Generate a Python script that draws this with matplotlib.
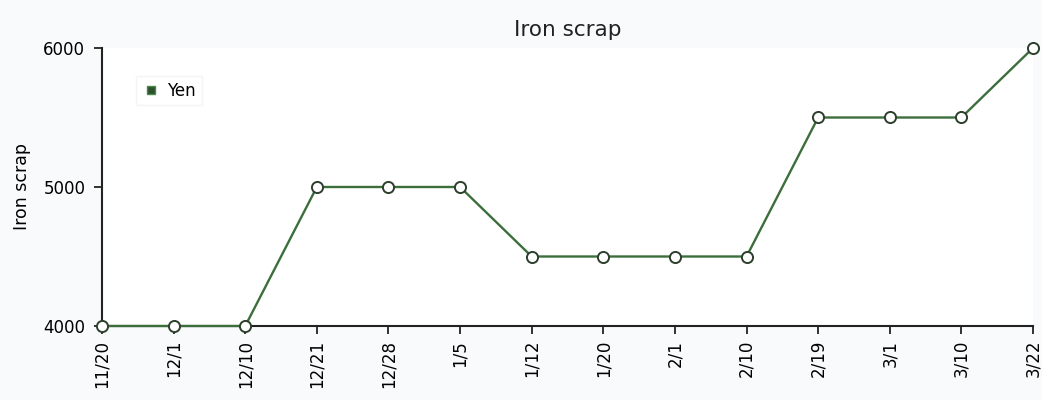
import matplotlib
matplotlib.use("Agg")
import matplotlib.pyplot as plt
from matplotlib.lines import Line2D

dates = ["11/20", "12/1", "12/10", "12/21", "12/28", "1/5", "1/12", "1/20",
         "2/1", "2/10", "2/19", "3/1", "3/10", "3/22"]
yen = [4000, 4000, 4000, 5000, 5000, 5000, 4500, 4500, 4500, 4500, 5500, 5500, 5500, 6000]
yticks = [4000, 5000, 6000]

plt.rcParams['font.family'] = ['DejaVu Sans']
fig = plt.figure(figsize=(10.42, 4.0), dpi=100, facecolor='#f9fafc')
ax = fig.add_axes([102/1042, 1 - 326/400, (1033-102)/1042, (326-48)/400])
ax.set_facecolor('white')

x = list(range(len(dates)))
line_color = '#3c6e3c'
ax.plot(x, yen, color=line_color, lw=1.7, marker='o', ms=8,
        markerfacecolor='white', markeredgecolor='#2c3e2c', markeredgewidth=1.4,
        clip_on=False, zorder=3)

ax.set_xlim(0, len(dates) - 1)
ax.set_ylim(4000, 6000)
ax.set_xticks(x)
ax.set_xticklabels(dates, rotation=90, fontsize=12)
ax.set_yticks(yticks)
ax.set_yticklabels([str(v) for v in yticks], fontsize=12)
ax.tick_params(axis='both', direction='out', length=6, width=1.3, color='#222222')
ax.tick_params(axis='x', pad=4)
ax.tick_params(axis='y', pad=6)

for s in ['top', 'right']:
    ax.spines[s].set_visible(False)
for s in ['left', 'bottom']:
    ax.spines[s].set_linewidth(1.5)
    ax.spines[s].set_color('#222222')

ax.set_title("Iron scrap", fontsize=15.5, pad=9, color='#222222')
ax.set_ylabel("Iron scrap", fontsize=12.5, labelpad=9)

handle = Line2D([], [], linestyle='none', marker='s', ms=6,
                markerfacecolor='#2f4f2f', markeredgecolor='#4a8a4a')
ax.legend([handle], ["Yen"], loc='upper left', bbox_to_anchor=(0.028, 0.93),
          frameon=True, fontsize=12, handletextpad=0.5, borderpad=0.35,
          handlelength=1.0, fancybox=False, edgecolor='#f2f2f2', facecolor='white')

fig.savefig("out.png", dpi=100, facecolor=fig.get_facecolor())
